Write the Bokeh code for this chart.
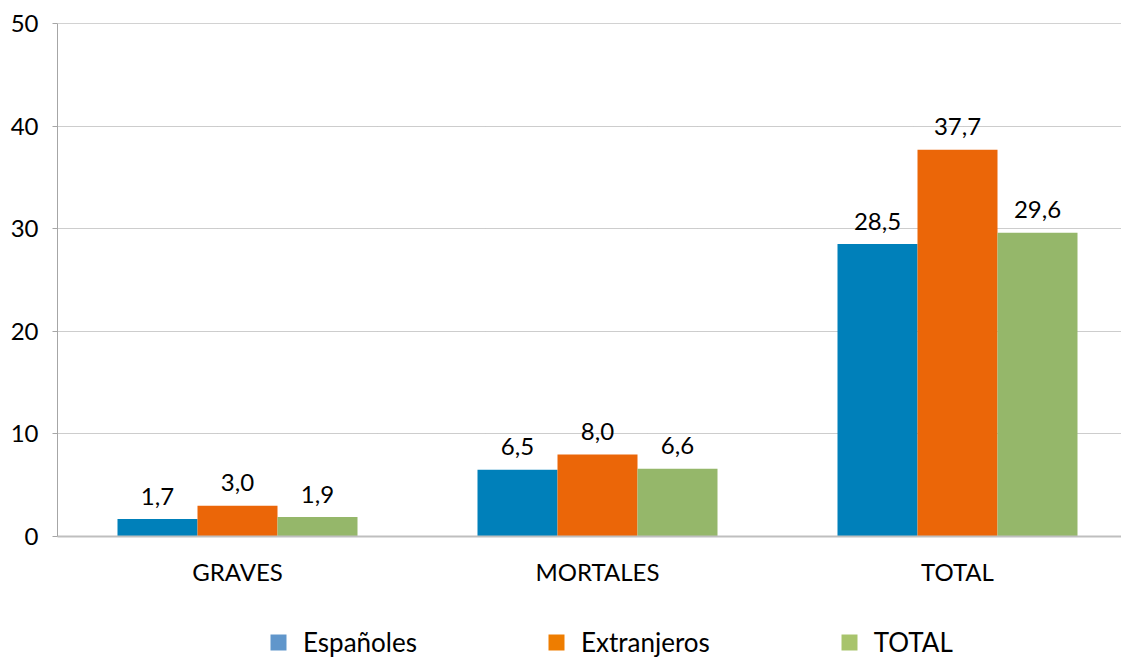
from bokeh.plotting import figure
from bokeh.layouts import column
from bokeh.models import ColumnDataSource, Range1d, FixedTicker, Legend, LegendItem, Span
from bokeh.core.properties import value
from bokeh.embed import file_html
from bokeh.resources import INLINE

categories = ["GRAVES", "MORTALES", "TOTAL"]
series_names = ["Españoles", "Extranjeros", "TOTAL"]
espanoles = [1.7, 6.5, 28.5]
extranjeros = [3.0, 8.0, 37.7]
total = [1.9, 6.6, 29.6]
y_ticks = [0, 10, 20, 30, 40, 50]
bar_colors = ["#0080ba", "#eb6608", "#95b76a"]
legend_colors = ["#6096cb", "#ee7d00", "#a8c46c"]

FONT = "Lato"
series_values = [espanoles, extranjeros, total]
centers = [i + 0.5 for i in range(len(categories))]
bar_w = 2 / 9
offsets = [-bar_w, 0.0, bar_w]

FW = 1064
p = figure(frame_width=FW, frame_height=513, min_border_left=57, min_border_top=23,
           min_border_bottom=84, min_border_right=0,
           x_range=Range1d(0, FW / 360), y_range=Range1d(0, 50),
           output_backend="svg", toolbar_location=None)
p.outline_line_color = None
p.background_fill_color = "white"

for vals, col, off in zip(series_values, bar_colors, offsets):
    xs = [c + off for c in centers]
    src = ColumnDataSource(dict(x=xs, top=vals, label=[f"{v:.1f}".replace(".", ",") for v in vals]))
    p.vbar(x="x", top="top", width=bar_w, bottom=0, source=src, fill_color=col, line_color=None)
    p.text(x="x", y="top", text="label", source=src, text_align="center", text_baseline="alphabetic",
           y_offset=-23, text_font=value(FONT), text_font_size="24px", text_color="#000000")

# top border line at axis max
p.add_layout(Span(location=y_ticks[-1], dimension="width", line_color="#a6a6a6", line_width=1))

p.xgrid.grid_line_color = None
p.ygrid.grid_line_color = "#9a9a9a"
p.ygrid.grid_line_dash = "1 1"
p.ygrid.grid_line_width = 1
p.ygrid.ticker = FixedTicker(ticks=y_ticks[1:-1])

p.yaxis.ticker = FixedTicker(ticks=y_ticks)
p.yaxis.axis_line_color = "#a6a6a6"
p.yaxis.major_tick_line_color = "#a6a6a6"
p.yaxis.major_tick_out = 5
p.yaxis.major_tick_in = 0
p.yaxis.minor_tick_line_color = None
p.yaxis.major_label_standoff = 14
p.yaxis.major_label_text_font = FONT
p.yaxis.major_label_text_font_size = "24px"
p.yaxis.major_label_text_color = "#000000"

p.xaxis.ticker = FixedTicker(ticks=centers)
p.xaxis.major_label_overrides = {c: n for c, n in zip(centers, categories)}
p.xaxis.axis_line_color = "#bfbfbf"
p.xaxis.axis_line_width = 2
p.xaxis.major_tick_line_color = None
p.xaxis.minor_tick_line_color = None
p.xaxis.major_label_standoff = 14
p.xaxis.major_label_text_font = FONT
p.xaxis.major_label_text_font_size = "24px"
p.xaxis.major_label_text_color = "#000000"

# legend strip as its own small figure below the chart (frame aligned with the chart's frame)
lg = figure(width=57 + FW, height=37, min_border=0, x_range=Range1d(0, 1), y_range=Range1d(0, 1),
            output_backend="svg", toolbar_location=None)
lg.axis.visible = False
lg.grid.grid_line_color = None
lg.outline_line_color = None
lg.background_fill_color = "white"
lg.border_fill_color = "white"
legend_items = []
for lcol, name in zip(legend_colors, series_names):
    # zero-area legend proxy: only its legend swatch is drawn
    proxy = lg.vbar(x=[0.5], bottom=[0.5], top=[0.5], width=0, fill_color=lcol, line_color=None)
    legend_items.append(LegendItem(label=name, renderers=[proxy]))
legend = Legend(items=legend_items, orientation="horizontal", location=(211, -1),
                glyph_width=20, glyph_height=20, label_standoff=15, spacing=129,
                padding=0, margin=0, border_line_color=None, background_fill_alpha=0,
                label_text_font=FONT, label_text_font_size="26px", label_text_color="#000000")
lg.add_layout(legend, "center")

layout = column(p, lg, spacing=0)
open("out.html", "w").write(file_html(layout, INLINE))
